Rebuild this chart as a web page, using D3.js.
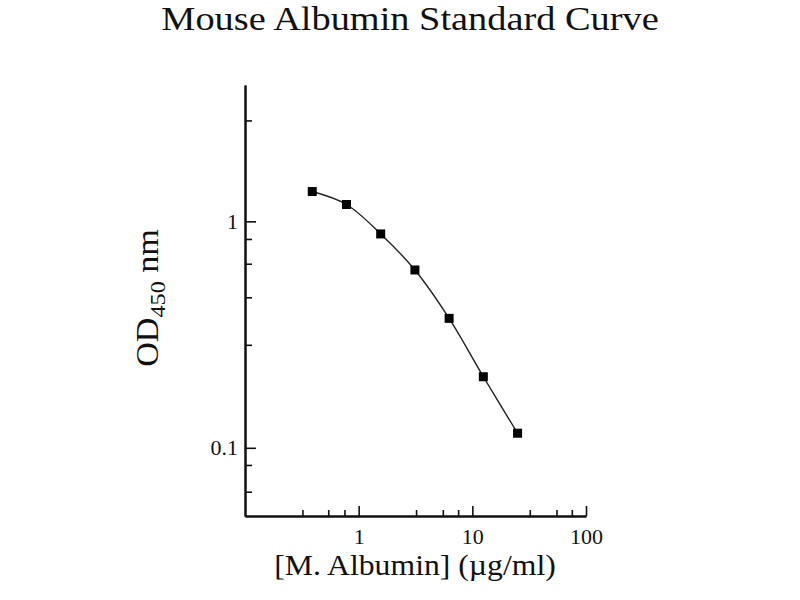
<!DOCTYPE html>
<html>
<head>
<meta charset="utf-8">
<script src="https://cdn.jsdelivr.net/npm/d3@7"></script>
<style>
body { margin: 0; background: #fff; }
text { font-family: "Liberation Serif", "Times New Roman", serif; fill: #111; }
</style>
</head>
<body>
<script>
var W = 800, H = 600;
var mLeft = 245, mRight = 586, mTop = 85, mBottom = 516;

// standard concentrations (ug/ml) and OD450
var conc = [0.390625, 0.78125, 1.5625, 3.125, 6.25, 12.5, 25];
var od = [1.354, 1.187, 0.880, 0.610, 0.373, 0.206, 0.116];

var xMajor = [1, 10, 100];
var xMinor = [0.32, 0.54, 0.75, 3.2, 5.5, 7.5, 32, 55, 75];
var yMajor = [0.1, 1];
var yMinor = [0.064, 0.084, 0.285, 0.462, 0.65, 0.836, 2.79];

var svg = d3.select("body")
	.append("svg")
	.attr("width", W)
	.attr("height", H);

var xScale = d3.scaleLog()
	.domain([0.1, 100])
	.range([mLeft, mRight]);

var yScale = d3.scaleLog()
	.domain([0.05, 4])
	.range([mBottom, mTop]);

// minor ticks first, no labels
var xMinorAxis = d3.axisBottom(xScale)
	.tickValues(xMinor)
	.tickFormat("")
	.tickSizeInner(-6)
	.tickSizeOuter(0);

var xAxis = d3.axisBottom(xScale)
	.tickValues(xMajor)
	.tickFormat(function(d) { return d; })
	.tickSizeInner(-10)
	.tickSizeOuter(0)
	.tickPadding(12);

var yMinorAxis = d3.axisLeft(yScale)
	.tickValues(yMinor)
	.tickFormat("")
	.tickSizeInner(-7)
	.tickSizeOuter(0);

var yAxis = d3.axisLeft(yScale)
	.tickValues(yMajor)
	.tickFormat(function(d) { return d; })
	.tickSizeInner(-11)
	.tickSizeOuter(0)
	.tickPadding(7);

svg.append("g").attr("transform", "translate(0," + mBottom + ")").call(xMinorAxis);
svg.append("g").attr("transform", "translate(0," + mBottom + ")").call(xAxis);
svg.append("g").attr("transform", "translate(" + mLeft + ",0)").call(yMinorAxis);
svg.append("g").attr("transform", "translate(" + mLeft + ",0)").call(yAxis);

svg.selectAll(".domain")
	.attr("stroke", "#111")
	.attr("stroke-width", 2);
svg.selectAll(".tick line")
	.attr("stroke", "#111")
	.attr("stroke-width", 1.6);
svg.selectAll(".tick text")
	.attr("font-family", "Liberation Serif, Times New Roman, serif")
	.attr("font-size", 22)
	.attr("fill", "#222");

var pts = conc.map(function(c, i) { return [c, od[i]]; });

var line = d3.line()
	.x(function(d) { return xScale(d[0]); })
	.y(function(d) { return yScale(d[1]); })
	.curve(d3.curveCatmullRom);

svg.append("path")
	.datum(pts)
	.attr("d", line)
	.attr("fill", "none")
	.attr("stroke", "#222")
	.attr("stroke-width", 1.4);

svg.selectAll(".pt")
	.data(pts)
	.enter()
	.append("rect")
	.attr("class", "pt")
	.attr("x", function(d) { return xScale(d[0]) - 4.5; })
	.attr("y", function(d) { return yScale(d[1]) - 4.5; })
	.attr("width", 9)
	.attr("height", 9)
	.attr("fill", "#000");

svg.append("text")
	.attr("transform", "translate(410,30) scale(1.128,1)")
	.attr("text-anchor", "middle")
	.attr("font-size", 34)
	.text("Mouse Albumin Standard Curve");

svg.append("text")
	.attr("transform", "translate(415,575) scale(1.094,1)")
	.attr("text-anchor", "middle")
	.attr("font-size", 29)
	.text("[M. Albumin] (\u00b5g/ml)");

var yl = svg.append("text")
	.attr("transform", "translate(158,298) rotate(-90) scale(1.1,1)")
	.attr("text-anchor", "middle")
	.attr("font-size", 31);
yl.append("tspan").text("OD");
yl.append("tspan").attr("font-size", 22).attr("dy", 7).text("450");
yl.append("tspan").attr("dy", -7).text(" nm");
</script>
</body>
</html>
